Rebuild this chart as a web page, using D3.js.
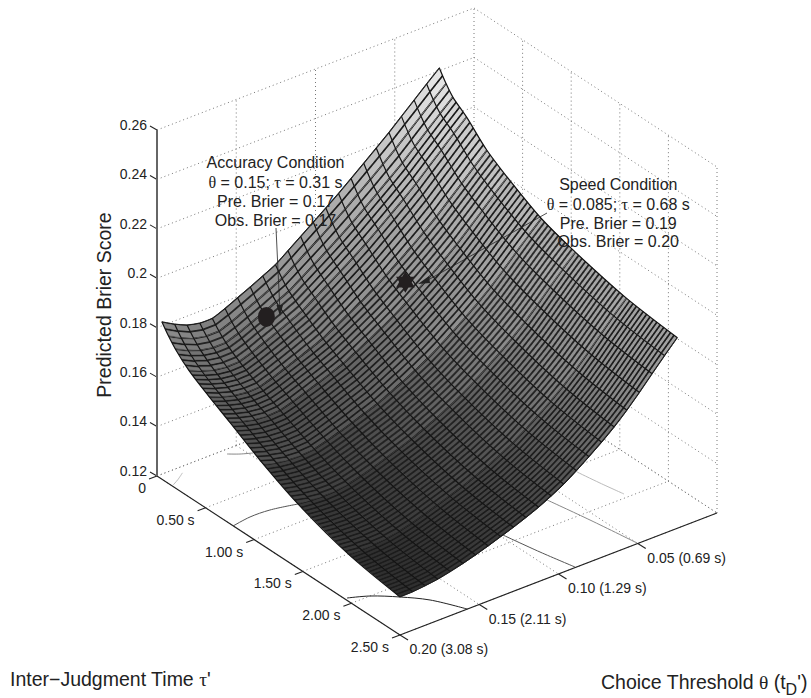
<!DOCTYPE html>
<html>
<head>
<meta charset="utf-8">
<script src="https://d3js.org/d3.v7.min.js"></script>
<style>
  body { margin: 0; background: #fff; }
  text { font-family: "Liberation Sans", Arial, sans-serif; fill: #222; }
</style>
</head>
<body>
<div id="chart"></div>
<script>
// values
var tauTicks = [0, 0.5, 1, 1.5, 2, 2.5];
var tauLabels = ["0", "0.50 s", "1.00 s", "1.50 s", "2.00 s", "2.50 s"];
var thetaTicks = [0.05, 0.1, 0.15, 0.2];
var thetaLabels = ["0.05 (0.69 s)", "0.10 (1.29 s)", "0.15 (2.11 s)", "0.20 (3.08 s)"];
var brierTicks = [0.12, 0.14, 0.16, 0.18, 0.2, 0.22, 0.24, 0.26];
var brierLabels = ["0.12", "0.14", "0.16", "0.18", "0.2", "0.22", "0.24", "0.26"];

// surface: one row per tau, one value per theta
var tauGrid = [0.05, 0.12, 0.19, 0.33, 0.54, 0.75, 1.10, 1.45, 1.975, 2.5];
var thetaGrid = [0.2000, 0.1920, 0.1841, 0.1761, 0.1682, 0.1602, 0.1523, 0.1443, 0.1364, 0.1284, 0.1205, 0.1125,
                 0.1045, 0.0966, 0.0886, 0.0807, 0.0727, 0.0648, 0.0568, 0.0489, 0.0409, 0.0330, 0.0250];
var brierTau005 = [.1837,.1808,.1785,.1773,.1773,.1793,.1817,.1841,.1866,.1892,.1929,.1967,.2005,.2043,.2082,.2123,.2165,.2207,.2250,.2296,.2342,.2388,.2433];
var brierTau012 = [.1796,.1769,.1748,.1738,.1738,.1757,.1780,.1803,.1828,.1853,.1888,.1924,.1960,.1997,.2036,.2076,.2117,.2159,.2202,.2248,.2295,.2341,.2387];
var brierTau019 = [.1762,.1737,.1718,.1709,.1710,.1728,.1751,.1773,.1796,.1820,.1854,.1889,.1924,.1960,.1998,.2038,.2079,.2120,.2163,.2210,.2257,.2304,.2350];
var brierTau033 = [.1711,.1690,.1674,.1667,.1669,.1687,.1708,.1730,.1753,.1777,.1809,.1842,.1877,.1912,.1949,.1989,.2030,.2071,.2115,.2163,.2211,.2259,.2306];
var brierTau054 = [.1658,.1639,.1625,.1618,.1621,.1637,.1656,.1676,.1696,.1718,.1746,.1776,.1807,.1839,.1875,.1912,.1951,.1992,.2035,.2082,.2130,.2178,.2225];
var brierTau075 = [.1610,.1593,.1581,.1577,.1580,.1595,.1613,.1631,.1651,.1671,.1697,.1725,.1754,.1785,.1819,.1856,.1894,.1934,.1977,.2024,.2074,.2122,.2170];
var brierTau110 = [.1528,.1516,.1509,.1508,.1513,.1527,.1543,.1561,.1579,.1598,.1622,.1647,.1674,.1703,.1737,.1773,.1811,.1851,.1895,.1944,.1995,.2045,.2093];
var brierTau145 = [.1460,.1454,.1451,.1453,.1461,.1474,.1490,.1508,.1526,.1545,.1567,.1591,.1618,.1646,.1681,.1718,.1756,.1797,.1842,.1892,.1945,.1997,.2047];
var brierTau198 = [.1390,.1389,.1391,.1396,.1406,.1419,.1435,.1452,.1470,.1488,.1509,.1531,.1558,.1586,.1621,.1657,.1696,.1738,.1785,.1836,.1891,.1944,.1996];
var brierTau250 = [.1354,.1355,.1360,.1367,.1378,.1391,.1406,.1423,.1441,.1459,.1479,.1501,.1527,.1555,.1590,.1627,.1666,.1708,.1756,.1808,.1864,.1918,.1971];
var brierRows = [brierTau005, brierTau012, brierTau019, brierTau033, brierTau054, brierTau075, brierTau110, brierTau145, brierTau198, brierTau250];

// contours on the floor: [tau, theta] and the level they belong to
var contourLevels = [0.2, 0.18, 0.16, 0.14, 0.16, 0.18, 0.2];
var contours = [
  [[0.066, 0.188], [0.116, 0.194], [0.15, 0.199]],
  [[0.049, 0.1588], [0.0985, 0.1537], [0.138, 0.1479]],
  [[0.7845, 0.2], [0.76, 0.1879], [0.767, 0.1758], [0.8145, 0.161]],
  [[1.932, 0.1986], [2.0, 0.1882], [2.124, 0.1769], [2.268, 0.1668], [2.498, 0.1576]],
  [[1.9025, 0.0984], [2.212, 0.094], [2.4935, 0.0892]],
  [[1.7235, 0.0596], [2.0855, 0.0547], [2.492, 0.05]],
  [[1.561, 0.0307], [1.757, 0.0283], [1.9575, 0.0254]]
];

var accuracyPoint = [0.31, 0.15, 0.18];
var speedPoint = [0.68, 0.085, 0.1876];
var accuracyText = ["Accuracy Condition", "\u03B8 = 0.15; \u03C4 = 0.31 s", "Pre. Brier = 0.17", "Obs. Brier = 0.17"];
var speedText = ["Speed Condition", "\u03B8 = 0.085; \u03C4 = 0.68 s", "Pre. Brier = 0.19", "Obs. Brier = 0.20"];

var width = 811, height = 698;
var originX = 157, originY = 476;

// oblique axes, every one is a pair of linear scales
var tauX = d3.scaleLinear().domain([0, 2.5]).range([0, 243]);
var tauY = d3.scaleLinear().domain([0, 2.5]).range([0, 159]);
var thetaX = d3.scaleLinear().domain([0.2, 0]).range([0, 317]);
var thetaY = d3.scaleLinear().domain([0.2, 0]).range([0, -122]);
var brierY = d3.scaleLinear().domain([0.12, 0.26]).range([0, -346]);

function project(tau, theta, brier) {
  return [originX + tauX(tau) + thetaX(theta),
          originY + tauY(tau) + thetaY(theta) + brierY(brier)];
}

var surfaceGray = d3.scaleLinear()
  .domain([0.135, 0.15, 0.16, 0.18, 0.21, 0.245])
  .range(["#2c2c2c", "#444444", "#5a5a5a", "#8a8a8a", "#b5b5b5", "#eeeeee"])
  .clamp(true);
var contourGray = d3.scaleLinear().domain([0.14, 0.2]).range(["#222222", "#bbbbbb"]);

var svg = d3.select("#chart").append("svg")
  .attr("width", width)
  .attr("height", height)
  .style("display", "block");
var defs = svg.append("defs");
var line = d3.line();

function seg(g, a, b) {
  return g.append("path").attr("d", line([a, b])).attr("fill", "none");
}

// greek letters come out of the serif face, like the symbol font
function addText(el, str) {
  str.split(/([\u03B8\u03C4])/).forEach(function(part) {
    if (!part) return;
    var t = el.append("tspan").text(part);
    if (part === "\u03B8" || part === "\u03C4") t.style("font-family", "'Liberation Serif', serif");
  });
  return el;
}

// dotted box
var grid = svg.append("g").attr("stroke", "#777").attr("stroke-width", 1).attr("stroke-dasharray", "1,3");
var thetaAll = [0].concat(thetaTicks);
var zMin = brierTicks[0], zMax = brierTicks[brierTicks.length - 1];
tauTicks.forEach(function(t) {
  seg(grid, project(t, 0.2, zMin), project(t, 0, zMin));
  if (t > 0) seg(grid, project(t, 0, zMin), project(t, 0, zMax));
});
thetaAll.forEach(function(th) {
  seg(grid, project(0, th, zMin), project(2.5, th, zMin));
  if (th < 0.2) seg(grid, project(0, th, zMin), project(0, th, zMax));
});
brierTicks.forEach(function(z) {
  seg(grid, project(0, 0.2, z), project(0, 0, z));
  seg(grid, project(0, 0, z), project(2.5, 0, z));
});

// floor contours
svg.append("g").selectAll("path")
  .data(contours)
  .enter()
  .append("path")
    .attr("d", function(d) {
      return d3.line().curve(d3.curveCatmullRom)(d.map(function(p) { return project(p[0], p[1], zMin); }));
    })
    .attr("fill", "none")
    .attr("stroke", function(d, i) { return contourGray(contourLevels[i]); })
    .attr("stroke-width", 1);

// surface, drawn from the far corner forward
var pts = brierRows.map(function(row, i) {
  return row.map(function(z, j) { return project(tauGrid[i], thetaGrid[j], z); });
});
// hatch lines per band between two tau rows
var hatchSteps = [2, 2, 4, 6, 6, 10, 10, 15, 15];
var surface = svg.append("g");
var nextId = 0;
for (var j = thetaGrid.length - 2; j >= 0; j--) {
  for (var i = 0; i < tauGrid.length - 1; i++) {
    var p00 = pts[i][j], p01 = pts[i][j + 1], p10 = pts[i + 1][j], p11 = pts[i + 1][j + 1];
    var quad = d3.line()([p00, p10, p11, p01]) + "Z";
    var z = (brierRows[i][j] + brierRows[i][j + 1] + brierRows[i + 1][j] + brierRows[i + 1][j + 1]) / 4;
    surface.append("path")
      .attr("d", quad)
      .attr("fill", surfaceGray(z))
      .attr("stroke", surfaceGray(z))
      .attr("stroke-width", 0.5);

    // the tight mesh lines, as a pattern lying along the cell
    var ax = (p10[0] - p00[0]) / hatchSteps[i], ay = (p10[1] - p00[1]) / hatchSteps[i];
    var cx = p01[0] - p00[0], cy = p01[1] - p00[1];
    var perp = Math.abs(ax * cy - ay * cx) / Math.sqrt(cx * cx + cy * cy);
    var frac = Math.min(0.85, 1.7 / perp);
    var id = "hatch" + (nextId++);
    var pat = defs.append("pattern")
      .attr("id", id)
      .attr("patternUnits", "userSpaceOnUse")
      .attr("width", 100)
      .attr("height", 100)
      .attr("patternTransform", "matrix(" + [ax / 100, ay / 100, cx / 100, cy / 100, p00[0], p00[1]].join(",") + ")");
    pat.append("rect")
      .attr("x", 100 - frac * 50).attr("y", 0)
      .attr("width", frac * 50).attr("height", 100)
      .attr("fill", "#1c1c1c");
    pat.append("rect")
      .attr("x", 0).attr("y", 0)
      .attr("width", frac * 50).attr("height", 100)
      .attr("fill", "#1c1c1c");
    surface.append("path").attr("d", quad).attr("fill", "url(#" + id + ")");
  }
}

// wider mesh lines run along tau
var meshLine = d3.line().curve(d3.curveCatmullRom);
thetaGrid.forEach(function(th, j) {
  surface.append("path")
    .attr("d", meshLine(pts.map(function(r) { return r[j]; })))
    .attr("fill", "none")
    .attr("stroke", "#141414")
    .attr("stroke-width", 1.2);
});
[0, pts.length - 1].forEach(function(i) {
  surface.append("path")
    .attr("d", meshLine(pts[i]))
    .attr("fill", "none")
    .attr("stroke", "#1c1c1c")
    .attr("stroke-width", 1);
});

// markers
var a = project(accuracyPoint[0], accuracyPoint[1], accuracyPoint[2]);
var s = project(speedPoint[0], speedPoint[1], speedPoint[2]);
svg.append("ellipse").attr("cx", a[0]).attr("cy", a[1]).attr("rx", 8.5).attr("ry", 10).attr("fill", "#231f20");
var tri = d3.symbol().type(d3.symbolTriangle).size(150)();
[0, 180].forEach(function(r) {
  svg.append("path")
    .attr("d", tri)
    .attr("transform", "translate(" + s[0] + "," + s[1] + ") rotate(" + r + ")")
    .attr("fill", "#231f20");
});

// annotation arrows
seg(svg, [276, 228], [280, 312]).attr("stroke", "#222").attr("stroke-width", 0.8);
svg.append("path").attr("d", d3.line()([[280, 316], [276.5, 305], [283, 305]]) + "Z").attr("fill", "#222");
seg(svg, [547, 213], [428, 280]).attr("stroke", "#222").attr("stroke-width", 0.8);
svg.append("path").attr("d", d3.line()([[418, 284], [429, 276], [430, 283]]) + "Z").attr("fill", "#222");

// axes
var axes = svg.append("g").attr("stroke", "#222").attr("stroke-width", 1.1);
seg(axes, project(0, 0.2, zMin), project(2.5, 0.2, zMin));
seg(axes, project(2.5, 0.2, zMin), project(2.5, 0, zMin));
seg(svg, project(0, 0.2, zMin), project(0, 0.2, zMax)).attr("stroke", "#666").attr("stroke-width", 2);

tauTicks.forEach(function(t, i) {
  var p = project(t, 0.2, zMin);
  seg(axes, p, [p[0] - 8, p[1] + 3]);
  svg.append("text").attr("x", p[0] - 11).attr("y", p[1] + 12)
    .attr("dy", "0.35em").attr("text-anchor", "end").attr("font-size", 14).text(tauLabels[i]);
});
thetaTicks.forEach(function(th, i) {
  var p = project(2.5, th, zMin);
  seg(axes, p, [p[0] + 8, p[1] + 5]);
  svg.append("text").attr("x", p[0] + 9.5).attr("y", p[1] + 14.5)
    .attr("dy", "0.35em").attr("font-size", 14).text(thetaLabels[i]);
});
brierTicks.forEach(function(z, i) {
  var p = project(0, 0.2, z);
  seg(axes, p, [p[0] - 7, p[1] - 4]);
  svg.append("text").attr("x", 147).attr("y", p[1] - 5)
    .attr("dy", "0.35em").attr("text-anchor", "end").attr("font-size", 14).text(brierLabels[i]);
});

// annotation text
function block(lines, x, ys) {
  lines.forEach(function(t, i) {
    addText(svg.append("text").attr("x", x).attr("y", ys[i]).attr("dy", "0.35em")
      .attr("text-anchor", "middle").attr("font-size", 16), t);
  });
}
block(accuracyText, 275.5, [162, 182, 201, 220]);
block(speedText, 618.3, [184, 204, 223, 241]);

// axis titles
svg.append("text")
  .attr("transform", "translate(104,305) rotate(-90)")
  .attr("dy", "0.35em")
  .attr("text-anchor", "middle")
  .attr("font-size", 19.5)
  .text("Predicted Brier Score");
addText(svg.append("text").attr("x", 10).attr("y", 679).attr("dy", "0.35em").attr("font-size", 19.5),
  "Inter\u2212Judgment Time \u03C4'");
var thetaTitle = svg.append("text").attr("x", 601).attr("y", 682).attr("dy", "0.35em").attr("font-size", 19.5);
addText(thetaTitle, "Choice Threshold \u03B8 (t");
thetaTitle.append("tspan").attr("dy", 6).attr("font-size", 16).text("D");
thetaTitle.append("tspan").attr("dy", -6).text("')");
</script>
</body>
</html>
